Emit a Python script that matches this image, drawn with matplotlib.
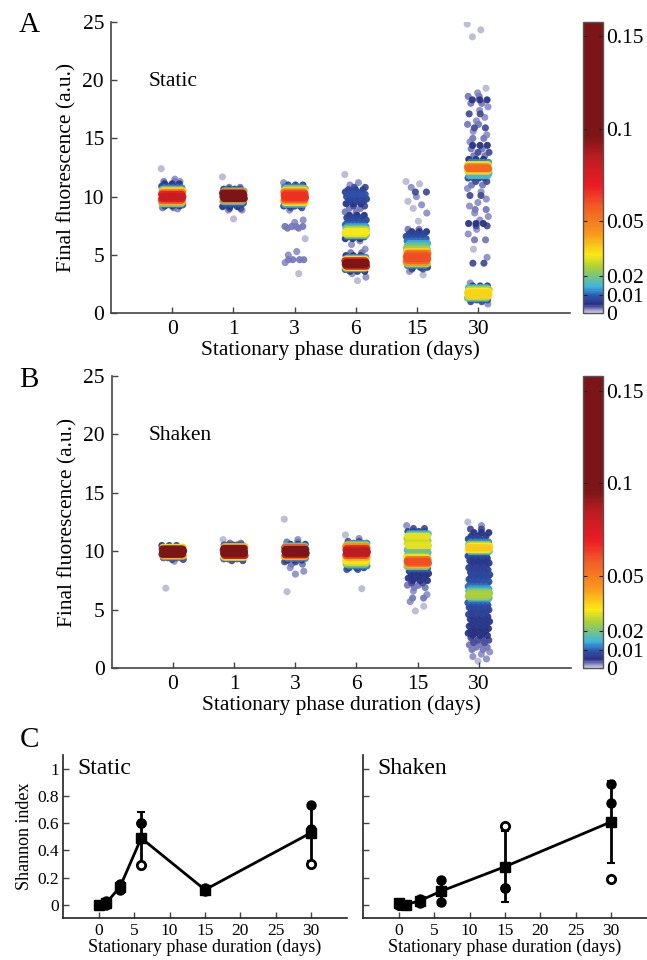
import numpy as np
import matplotlib
matplotlib.use("Agg")
import matplotlib.pyplot as plt
from matplotlib.colors import LinearSegmentedColormap, Normalize
from matplotlib.cm import ScalarMappable

plt.rcParams['font.family'] = ['Liberation Serif', 'DejaVu Serif']

# ── categories ────────────────────────────────────────────────
DAY_LABELS = ['0', '1', '3', '6', '15', '30']
DAYS = [0, 1, 3, 6, 15, 30]

# ── panel A (static): fluorescence level, cell fraction (colour) ──
a0_y = [12.4, 11.5, 11.3, 11.3, 11.1, 10.9, 10.75, 10.6, 10.5, 10.35, 10.2, 10.0,
        9.85, 9.7, 9.55, 9.4, 9.3, 9.2, 9.05, 8.95]
a0_d = [0.001, 0.002, 0.003, 0.002, 0.005, 0.008, 0.012, 0.02, 0.035, 0.05, 0.07, 0.08,
        0.075, 0.06, 0.04, 0.02, 0.01, 0.006, 0.003, 0.002]
a1_y = [11.7, 10.8, 10.65, 10.5, 10.4, 10.3, 10.15, 10.0, 9.85, 9.75, 9.6, 9.45,
        9.3, 9.15, 9.0, 8.85, 8.85, 8.1]
a1_d = [0.001, 0.003, 0.008, 0.02, 0.05, 0.1, 0.12, 0.12, 0.1, 0.05, 0.02, 0.01,
        0.008, 0.006, 0.004, 0.002, 0.002, 0.001]
a3_y = [11.2, 11.0, 10.85, 10.7, 10.55, 10.4, 10.25, 10.1, 9.95, 9.8, 9.65, 9.5,
        9.35, 9.2, 9.05, 8.85, 8.0, 7.8, 7.45, 7.45, 7.3, 6.4, 5.3, 5.0, 4.6, 4.6,
        4.35, 3.4]
a3_d = [0.002, 0.006, 0.012, 0.02, 0.035, 0.05, 0.062, 0.066, 0.066, 0.06, 0.045, 0.03,
        0.015, 0.008, 0.004, 0.002, 0.002, 0.002, 0.003, 0.003, 0.003, 0.001, 0.002,
        0.002, 0.003, 0.003, 0.002, 0.001]
a6_y = [11.9, 11.2, 11.0, 10.8, 10.6, 10.4, 10.2, 10.0, 9.8, 9.6, 9.4, 9.2, 9.0,
        8.7, 8.4, 8.2, 8.0, 7.8, 7.6, 7.45, 7.3, 7.15, 7.0, 6.85, 6.7, 6.55, 6.4,
        6.2, 5.9, 5.5, 5.2, 4.95, 4.8, 4.65, 4.5, 4.35, 4.2, 4.05, 3.9, 3.75, 3.6,
        3.4, 3.1, 2.8]
a6_d = [0.001, 0.002, 0.002, 0.004, 0.007, 0.008, 0.009, 0.008, 0.008, 0.007, 0.005,
        0.004, 0.003, 0.003, 0.005, 0.007, 0.008, 0.009, 0.01, 0.013, 0.018, 0.027,
        0.032, 0.03, 0.022, 0.01, 0.005, 0.002, 0.002, 0.002, 0.003, 0.006, 0.012,
        0.03, 0.07, 0.12, 0.12, 0.08, 0.03, 0.01, 0.005, 0.002, 0.002, 0.001]
a15_y = [11.3, 11.1, 10.8, 10.4, 10.0, 9.6, 9.3, 9.0, 8.6, 7.9, 7.2, 7.0, 6.8, 6.6,
         6.4, 6.2, 6.0, 5.8, 5.6, 5.45, 5.3, 5.15, 5.0, 4.85, 4.7, 4.55, 4.4, 4.25,
         4.1, 3.95, 3.8, 3.6, 3.3]
a15_d = [0.001, 0.001, 0.002, 0.004, 0.002, 0.001, 0.002, 0.001, 0.002, 0.001, 0.003,
         0.005, 0.007, 0.008, 0.009, 0.011, 0.014, 0.018, 0.022, 0.025, 0.035, 0.05,
         0.058, 0.06, 0.06, 0.055, 0.045, 0.025, 0.012, 0.007, 0.004, 0.002, 0.001]
a30_y = [24.8, 24.3, 23.7, 19.3, 18.9, 18.6, 18.3, 18.0, 17.7, 17.4, 17.1, 16.8, 16.5,
         16.2, 15.9, 15.6, 15.3, 15.0, 14.7, 14.4, 14.1, 13.8, 13.5, 13.2, 12.95,
         12.75, 12.55, 12.4, 12.2, 12.0, 11.8, 11.6, 11.3, 11.0, 10.7, 10.4, 10.1,
         9.8, 9.5, 9.2, 8.9, 8.6, 8.3, 8.0, 7.7, 7.5, 7.2, 6.8, 6.3, 5.5, 4.8, 4.3,
         2.6, 2.35, 2.2, 2.05, 1.9, 1.75, 1.6, 1.45, 1.3, 1.15, 1.0, 0.8]
a30_d = [0.001, 0.001, 0.001, 0.001, 0.002, 0.003, 0.005, 0.003, 0.002, 0.002, 0.004,
         0.002, 0.002, 0.003, 0.004, 0.002, 0.002, 0.003, 0.002, 0.005, 0.003, 0.004,
         0.003, 0.005, 0.012, 0.03, 0.05, 0.055, 0.035, 0.016, 0.015, 0.008, 0.004,
         0.003, 0.002, 0.002, 0.004, 0.002, 0.002, 0.002, 0.003, 0.002, 0.002, 0.002,
         0.005, 0.004, 0.002, 0.002, 0.003, 0.001, 0.002, 0.004, 0.002, 0.006, 0.015,
         0.025, 0.032, 0.035, 0.034, 0.028, 0.018, 0.009, 0.004, 0.002]

# ── panel B (shaken) ──────────────────────────────────────────
b0_y = [10.5, 10.35, 10.2, 10.05, 9.9, 9.75, 9.6, 9.45, 9.3, 9.15, 6.85]
b0_d = [0.006, 0.03, 0.12, 0.15, 0.15, 0.12, 0.04, 0.01, 0.004, 0.002, 0.001]
b1_y = [11.0, 10.7, 10.55, 10.4, 10.25, 10.1, 9.95, 9.8, 9.65, 9.5, 9.35, 9.2]
b1_d = [0.001, 0.003, 0.01, 0.04, 0.1, 0.13, 0.14, 0.13, 0.08, 0.03, 0.01, 0.004]
b3_y = [12.75, 11.0, 10.8, 10.6, 10.45, 10.3, 10.15, 10.0, 9.85, 9.7, 9.55, 9.4,
        9.25, 9.1, 8.9, 8.6, 8.3, 8.05, 6.55]
b3_d = [0.001, 0.002, 0.003, 0.006, 0.02, 0.06, 0.12, 0.14, 0.13, 0.08, 0.04, 0.012,
        0.006, 0.004, 0.003, 0.002, 0.002, 0.002, 0.001]
b6_y = [11.4, 11.1, 10.85, 10.7, 10.55, 10.4, 10.25, 10.1, 9.95, 9.8, 9.65, 9.5,
        9.35, 9.2, 9.05, 8.9, 8.75, 8.6, 8.45, 6.8]
b6_d = [0.001, 0.002, 0.004, 0.012, 0.025, 0.045, 0.065, 0.08, 0.085, 0.08, 0.06,
        0.04, 0.033, 0.032, 0.028, 0.02, 0.012, 0.007, 0.004, 0.001]
b15_y = [12.2, 11.95, 11.7, 11.5, 11.3, 11.1, 10.9, 10.7, 10.5, 10.3, 10.1, 9.9, 9.7,
         9.5, 9.3, 9.15, 9.0, 8.85, 8.7, 8.5, 8.3, 8.1, 7.9, 7.7, 7.5, 7.3, 7.1,
         6.9, 6.6, 6.3, 6.0, 5.7, 5.3, 4.9]
b15_d = [0.002, 0.004, 0.008, 0.015, 0.03, 0.025, 0.02, 0.028, 0.03, 0.02, 0.015,
         0.015, 0.02, 0.03, 0.05, 0.06, 0.058, 0.04, 0.02, 0.01, 0.006, 0.005, 0.005,
         0.006, 0.005, 0.004, 0.003, 0.003, 0.002, 0.002, 0.003, 0.002, 0.001, 0.001]
b30_y = [12.5, 12.2, 11.9, 11.6, 11.3, 11.05, 10.8, 10.6, 10.45, 10.3, 10.15, 10.0,
         9.8, 9.6, 9.4, 9.2, 9.0, 8.8, 8.6, 8.4, 8.2, 8.0, 7.8, 7.6, 7.4, 7.2, 7.0,
         6.8, 6.6, 6.45, 6.3, 6.15, 6.0, 5.8, 5.6, 5.4, 5.2, 5.0, 4.8, 4.6, 4.4, 4.2,
         4.0, 3.8, 3.6, 3.4, 3.2, 3.0, 2.8, 2.6, 2.4, 2.2, 2.0, 1.8, 1.6, 1.4, 1.2,
         1.0, 0.8, 0.6]
b30_d = [0.001, 0.002, 0.004, 0.005, 0.006, 0.008, 0.012, 0.022, 0.032, 0.036,
         0.032, 0.018, 0.009, 0.007, 0.006, 0.006, 0.006, 0.006, 0.007, 0.007,
         0.007, 0.008, 0.008, 0.008, 0.009, 0.009, 0.011, 0.013, 0.018, 0.023,
         0.025, 0.023, 0.016, 0.011, 0.009, 0.008, 0.008, 0.007, 0.007, 0.007,
         0.006, 0.006, 0.006, 0.006, 0.006, 0.005, 0.005, 0.005, 0.005, 0.004,
         0.004, 0.004, 0.003, 0.003, 0.003, 0.002, 0.002, 0.002, 0.002, 0.001]

# ── panel C: Shannon index per replicate ──────────────────────
static_rep1 = [0.00, 0.03, 0.15, 0.60, 0.12, 0.73]
static_rep2 = [0.00, 0.00, 0.11, 0.60, 0.10, 0.56]
static_rep3 = [0.00, 0.01, 0.13, 0.29, 0.11, 0.30]
static_mean = [0.00, 0.01, 0.13, 0.49, 0.11, 0.53]
static_err = [0.005, 0.015, 0.02, 0.19, 0.01, 0.21]

shaken_rep1 = [0.01, 0.00, 0.04, 0.18, 0.12, 0.89]
shaken_rep2 = [0.00, 0.00, 0.01, 0.02, 0.12, 0.75]
shaken_rep3 = [0.00, 0.00, 0.03, 0.10, 0.58, 0.19]
shaken_mean = [0.01, 0.00, 0.03, 0.10, 0.28, 0.61]
shaken_err = [0.005, 0.005, 0.02, 0.07, 0.26, 0.30]

CB_TICKS = [0, 0.01, 0.02, 0.05, 0.1, 0.15]
CB_LABELS = ['0', '0.01', '0.02', '0.05', '0.1', '0.15']

# ── colour map: grey for rare, jet-like up to dark red ────────
VMAX = 0.158
nodes = [(0.0, '#cfcfd6'), (0.002, '#8a8cc8'), (0.0045, '#27307f'),
         (0.0095, '#2f57b0'), (0.014, '#3bb5e0'), (0.0245, '#a8cf3c'),
         (0.0315, '#fbe916'), (0.043, '#f8981d'), (0.058, '#f15b25'),
         (0.069, '#ec1c24'), (0.085, '#b81d22'), (0.096, '#7b1517'),
         (VMAX, '#7b1517')]
cmap = LinearSegmentedColormap.from_list('dens', [(v / VMAX, c) for v, c in nodes])
norm = Normalize(0, VMAX)

JIT = 0.18
AX_COLOR = '#444444'


def draw_cloud(pos, levels, dens):
    xs, ys, cs = [], [], []
    for i, (y, d) in enumerate(zip(levels, dens)):
        n = min(14, 1 + int(d * 400))
        phase = (i * 0.618034) % 1
        u = ((np.arange(n) + phase) / n) % 1
        off = (u * 2 - 1) * JIT
        xs.extend(pos + off)
        ys.extend([y] * n)
        cs.extend([d] * n)
    return xs, ys, cs


def style_axes(ax):
    for s in ['top', 'right']:
        ax.spines[s].set_visible(False)
    for s in ['left', 'bottom']:
        ax.spines[s].set_color(AX_COLOR)
        ax.spines[s].set_linewidth(1.2)
    ax.tick_params(direction='in', color=AX_COLOR, width=1.0, length=4)


def scatter_panel(ax, cax, groups, label):
    xs, ys, cs = [], [], []
    for pos, (lv, dn) in enumerate(groups):
        x, y, c = draw_cloud(pos, lv, dn)
        xs += x
        ys += y
        cs += c
    order = np.argsort(cs, kind='stable')
    xs, ys, cs = np.array(xs)[order], np.array(ys)[order], np.array(cs)[order]
    ax.scatter(xs, ys, c=cs, cmap=cmap, norm=norm, s=26, linewidths=0, alpha=0.95)
    ax.set_xlim(-1, 6.5)
    ax.set_ylim(0, 25)
    ax.set_xticks(range(len(DAY_LABELS)))
    ax.set_xticklabels(DAY_LABELS)
    ax.set_yticks([0, 5, 10, 15, 20, 25])
    ax.tick_params(labelsize=15.5, pad=5)
    ax.set_xlabel('Stationary phase duration (days)', fontsize=15.5, labelpad=1)
    ax.set_ylabel('Final fluorescence (a.u.)', fontsize=15.5, labelpad=4)
    style_axes(ax)
    ax.text(-0.39, 19.5, label, fontsize=15.5)

    cb = plt.colorbar(ScalarMappable(norm=norm, cmap=cmap), cax=cax, ticks=CB_TICKS)
    cb.ax.set_yticklabels(CB_LABELS)
    cb.ax.set_ylim(0, VMAX)
    cb.ax.tick_params(direction='in', left=True, right=True, length=3,
                      labelsize=15.5, pad=2, color='#222222')
    cb.outline.set_edgecolor('#555555')
    cb.outline.set_linewidth(1.0)


def shannon_panel(ax, rep1, rep2, rep3, mean, err, label, ylabels=True):
    ax.errorbar(DAYS, mean, yerr=err, color='black', lw=2, capsize=3,
                capthick=1.5, elinewidth=2, zorder=2)
    ax.plot(DAYS, rep3, 'o', ms=6, mfc='white', mec='black', mew=2, zorder=3)
    ax.plot(DAYS, rep1, 'o', ms=6.5, color='black', zorder=4)
    ax.plot(DAYS, rep2, 'o', ms=6.5, color='black', zorder=4)
    ax.plot(DAYS, mean, 's', ms=6.5, color='black', zorder=5)
    ax.set_xlim(-5, 35)
    ax.set_ylim(-0.1, 1.1)
    ax.set_xticks([0, 5, 10, 15, 20, 25, 30])
    ax.set_yticks([0, 0.2, 0.4, 0.6, 0.8, 1])
    ax.set_yticklabels(['0', '0.2', '0.4', '0.6', '0.8', '1'] if ylabels else [])
    ax.tick_params(labelsize=12.5, pad=3)
    style_axes(ax)
    ax.spines['left'].set_color('#222222')
    ax.spines['bottom'].set_color('#222222')
    ax.set_xlabel('Stationary phase duration (days)', fontsize=13, labelpad=0)
    if ylabels:
        ax.set_ylabel('Shannon index', fontsize=13, labelpad=3)
    ax.text(-3, 0.96, label, fontsize=17)


fig = plt.figure(figsize=(6.47, 9.60), dpi=100)

axA = fig.add_axes([0.1716, 0.6736, 0.7094, 0.3038])
caxA = fig.add_axes([0.9011, 0.6736, 0.0309, 0.3038])
scatter_panel(axA, caxA, [(a0_y, a0_d), (a1_y, a1_d), (a3_y, a3_d), (a6_y, a6_d),
                          (a15_y, a15_d), (a30_y, a30_d)], 'Static')

axB = fig.add_axes([0.1726, 0.3039, 0.7094, 0.3045])
caxB = fig.add_axes([0.9011, 0.3039, 0.0309, 0.3045])
scatter_panel(axB, caxB, [(b0_y, b0_d), (b1_y, b1_d), (b3_y, b3_d), (b6_y, b6_d),
                          (b15_y, b15_d), (b30_y, b30_d)], 'Shaken')

axC1 = fig.add_axes([0.0978, 0.0434, 0.438, 0.170])
shannon_panel(axC1, static_rep1, static_rep2, static_rep3, static_mean, static_err,
              'Static')
axC2 = fig.add_axes([0.5615, 0.0434, 0.438, 0.170])
shannon_panel(axC2, shaken_rep1, shaken_rep2, shaken_rep3, shaken_mean, shaken_err,
              'Shaken', ylabels=False)

fig.text(0.045, 0.967, 'A', fontsize=21, ha='center')
fig.text(0.045, 0.597, 'B', fontsize=21, ha='center')
fig.text(0.045, 0.222, 'C', fontsize=21, ha='center')

fig.savefig('out.png', dpi=100)
